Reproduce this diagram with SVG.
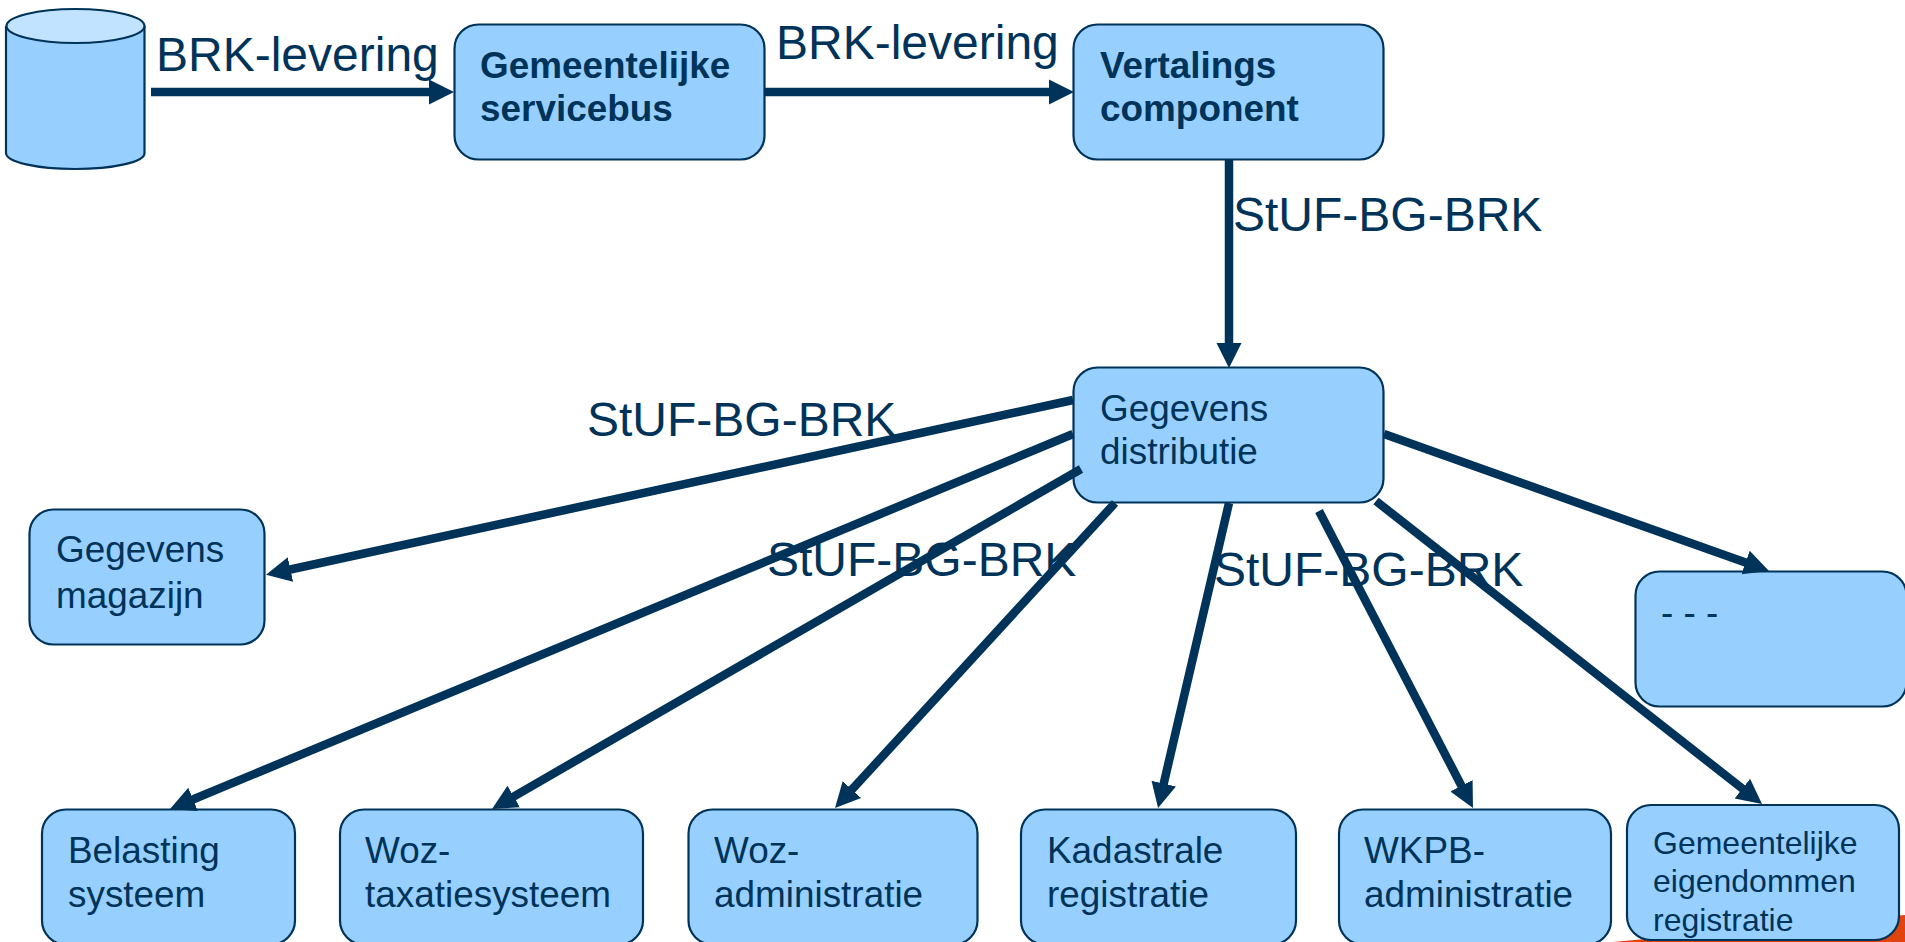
<svg xmlns="http://www.w3.org/2000/svg" width="1905" height="942" viewBox="0 0 1905 942">
<style>
.box{fill:#97d0ff;stroke:#003359;stroke-width:2.200}
.top{fill:#c1e3ff;stroke:#003359;stroke-width:2.200}
text{font-family:"Liberation Sans",Arial,sans-serif;fill:#003359}
.n{font-size:36.900px}
.b{font-size:36.900px;font-weight:bold}
.s{font-size:32px}
.l{font-size:48px}
.c{fill:none;stroke:#003359;stroke-width:8.500;marker-end:url(#a)}
</style>
<defs><marker id="a" markerUnits="userSpaceOnUse" markerWidth="27" markerHeight="27" refX="12" refY="13.500" orient="auto"><path d="M0 1 L25 13.500 L0 26Z" fill="#003359"/></marker></defs>
<rect width="1905" height="942" fill="#fff"/>
<path d="M1613 942 L1905 915 V942Z" fill="#e0440e"/>
<g id="database"><path class="box" d="M6 26V153C6 162 37 169 75 169S145 162 144.500 153V26"/><ellipse class="top" cx="75.500" cy="26" rx="69" ry="17"/></g>
<g id="servicebus"><rect class="box" x="454.500" y="24.500" width="310" height="135" rx="24"/><text class="b" x="480" y="78">Gemeentelijke</text><text class="b" x="480" y="121">servicebus</text></g>
<g id="vertalings"><rect class="box" x="1073.500" y="24.500" width="310" height="135" rx="24"/><text class="b" x="1100" y="78">Vertalings</text><text class="b" x="1100" y="121">component</text></g>
<g id="distributie"><rect class="box" x="1073.500" y="367.500" width="310" height="135" rx="24"/><text class="n" x="1100" y="421">Gegevens</text><text class="n" x="1100" y="464">distributie</text></g>
<g id="magazijn"><rect class="box" x="29.500" y="509.500" width="235" height="135" rx="24"/><text class="n" x="56" y="562">Gegevens</text><text class="n" x="56" y="608">magazijn</text></g>
<g id="overig"><rect class="box" x="1635.500" y="571.500" width="271" height="135" rx="24"/><text class="n" x="1661" y="625">- - -</text></g>
<g id="belasting"><rect class="box" x="42" y="809.500" width="253" height="135" rx="24"/><text class="n" x="68" y="863">Belasting</text><text class="n" x="68" y="907">systeem</text></g>
<g id="woztax"><rect class="box" x="340" y="809.500" width="303" height="135" rx="24"/><text class="n" x="365" y="863">Woz-</text><text class="n" x="365" y="907">taxatiesysteem</text></g>
<g id="wozadm"><rect class="box" x="688.500" y="809.500" width="289" height="135" rx="24"/><text class="n" x="714" y="863">Woz-</text><text class="n" x="714" y="907">administratie</text></g>
<g id="kadastrale"><rect class="box" x="1021" y="809.500" width="275" height="135" rx="24"/><text class="n" x="1047" y="863">Kadastrale</text><text class="n" x="1047" y="907">registratie</text></g>
<g id="wkpb"><rect class="box" x="1339" y="809.500" width="272" height="135" rx="24"/><text class="n" x="1364" y="863">WKPB-</text><text class="n" x="1364" y="907">administratie</text></g>
<g id="eigendommen"><rect class="box" x="1627" y="805" width="272" height="135" rx="24"/><text class="s" x="1653" y="854">Gemeentelijke</text><text class="s" x="1653" y="892">eigendommen</text><text class="s" x="1653" y="931">registratie</text></g>
<g id="connectors">
<path class="c" d="M151 92H441"/>
<path class="c" d="M764 92H1061"/>
<path class="c" d="M1229 160V355"/>
<path class="c" d="M1073 400L278.700 572"/>
<path class="c" d="M1073 434L182 804"/>
<path class="c" d="M1081 469L503.300 802.500"/>
<path class="c" d="M1115 503L843.800 798.400"/>
<path class="c" d="M1229 503L1161 795.300"/>
<path class="c" d="M1319 511L1467 796.500"/>
<path class="c" d="M1376 501L1751.800 796"/>
<path class="c" d="M1384 434L1756.800 566.600"/>
</g>
<g id="labels">
<text class="l" x="156" y="71">BRK-levering</text>
<text class="l" x="776" y="59">BRK-levering</text>
<text class="l" x="1233" y="231">StUF-BG-BRK</text>
<text class="l" x="587" y="436">StUF-BG-BRK</text>
<text class="l" x="767" y="576">StUF-BG-BRK</text>
<text class="l" x="1214" y="586">StUF-BG-BRK</text>
</g>
</svg>
